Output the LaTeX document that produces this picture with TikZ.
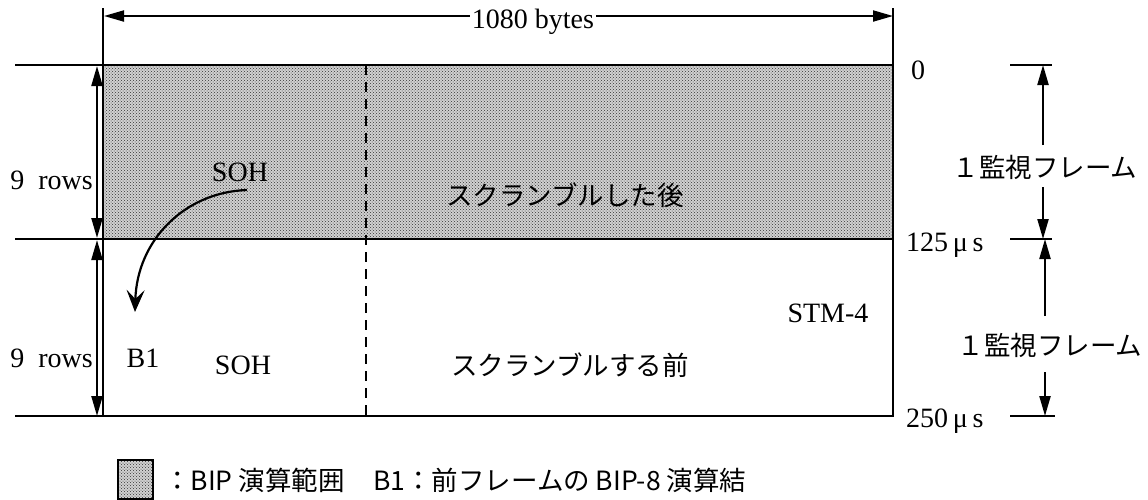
\documentclass[tikz,border=0pt]{standalone}
\usepackage{fontspec}
\setmainfont{Liberation Serif}
\newfontfamily\jp{Noto Sans CJK JP}
\usetikzlibrary{arrows.meta,patterns}
\begin{document}
\begin{tikzpicture}[x=1pt,y=-1pt,
  dimarrow/.style={line width=2.2pt,{Triangle[length=20pt,width=11pt]}-{Triangle[length=20pt,width=11pt]}},
  halfup/.style={line width=2.2pt,-{Triangle[length=20pt,width=11pt]}},
  extline/.style={line width=2pt},
  frameline/.style={line width=2.8pt},
  lat/.style={font=\fontsize{28}{32}\selectfont, inner sep=1pt},
  jap/.style={font=\jp\fontsize{26.5}{30}\selectfont, inner sep=1pt},
  dotbg/.style={fill=black!18},
  dotfill/.style={pattern=crosshatch dots, pattern color=black!80}]
\useasboundingbox (0,0) rectangle (1148,499);
% coordinates
\coordinate (tl) at (103,65);
\coordinate (tr) at (893,65);
\coordinate (ml) at (103,239);
\coordinate (mr) at (893,239);
\coordinate (bl) at (103,416);
\coordinate (br) at (893,416);
% shaded area
\fill[dotbg] (tl) rectangle (mr);
\fill[dotfill] (tl) rectangle (mr);
\draw[frameline] (tl) rectangle (br);
\draw[frameline] (ml) -- (mr);
\coordinate (dt) at (366,65);
\coordinate (db) at (366,416);
\draw[line width=2pt, dash pattern=on 10pt off 7pt] (dt) -- (db);
% top dimension
\coordinate (el1) at (103,8);
\coordinate (er1) at (893,8);
\draw[extline] (el1) -- (tl);
\draw[extline] (er1) -- (tr);
\coordinate (ta) at (104,16);
\coordinate (tb) at (893,16);
\draw[dimarrow, line width=2pt] (ta) -- (tb);
\node[lat, fill=white, inner sep=2pt] (bytes) at (533,22) {1080 bytes};
% left extension lines
\coordinate (l1) at (15,65);
\coordinate (l2) at (15,239);
\coordinate (l3) at (15,416);
\draw[extline] (l1) -- (tl);
\draw[extline] (l2) -- (ml);
\draw[extline] (l3) -- (bl);
\coordinate (a1) at (97,66);
\coordinate (a2) at (97,238);
\coordinate (a3) at (97,240);
\coordinate (a4) at (97,416);
\draw[dimarrow] (a1) -- (a2);
\draw[dimarrow] (a3) -- (a4);
\node[lat, anchor=east] (rows1) at (94,180) {9~~rows};
\node[lat, anchor=east] (rows2) at (94,358) {9~~rows};
% inner labels
\node[lat] (soh1) at (240,172) {SOH};
\node[jap] (after) at (565,195) {スクランブルした後};
\node[lat] (b1) at (143,358) {B1};
\node[lat] (soh2) at (243,365) {SOH};
\node[jap] (before) at (570,365) {スクランブルする前};
\node[lat] (stm) at (828,313) {STM-4};
% curved arrow
\coordinate (cs) at (247,190);
\coordinate (ce) at (135,312);
\draw[line width=2.2pt, -{Stealth[length=22pt,width=18pt,inset=9pt]}] (cs) .. controls (185,192) and (137,240) .. (ce);
% right time labels
\node[lat, anchor=west] (t0) at (910,70) {0};
\node[lat, anchor=west] (t125) at (905,245) {125\,μ\,s};
\node[lat, anchor=west] (t250) at (905,421) {250\,μ\,s};
% right dimension
\coordinate (r1a) at (1010,65);
\coordinate (r1b) at (1052,65);
\coordinate (r2a) at (1010,239);
\coordinate (r2b) at (1052,239);
\coordinate (r3a) at (1010,416);
\coordinate (r3b) at (1055,416);
\draw[extline] (r1a) -- (r1b);
\draw[extline] (r2a) -- (r2b);
\draw[extline] (r3a) -- (r3b);
\node[jap] (mon1) at (1045,167) {１監視フレーム};
\node[jap] (mon2) at (1050,345) {１監視フレーム};
\coordinate (v1a) at (1043,145);
\coordinate (v1t) at (1043,65);
\coordinate (v1b) at (1043,187);
\coordinate (v1d) at (1043,239);
\draw[halfup] (v1a) -- (v1t);
\draw[halfup] (v1b) -- (v1d);
\coordinate (v2a) at (1045,316);
\coordinate (v2t) at (1045,239);
\coordinate (v2b) at (1045,372);
\coordinate (v2d) at (1045,416);
\draw[halfup] (v2a) -- (v2t);
\draw[halfup] (v2b) -- (v2d);
% legend
\fill[dotbg] (118,460) rectangle (153,499);
\draw[dotfill, line width=1.5pt] (118,460) rectangle (153,499);
\node[jap, anchor=west] (leg1) at (163,480) {：BIP 演算範囲};
\node[jap, anchor=west] (leg2) at (372,480) {B1：前フレームの BIP-8 演算結};
\end{tikzpicture}
\end{document}
